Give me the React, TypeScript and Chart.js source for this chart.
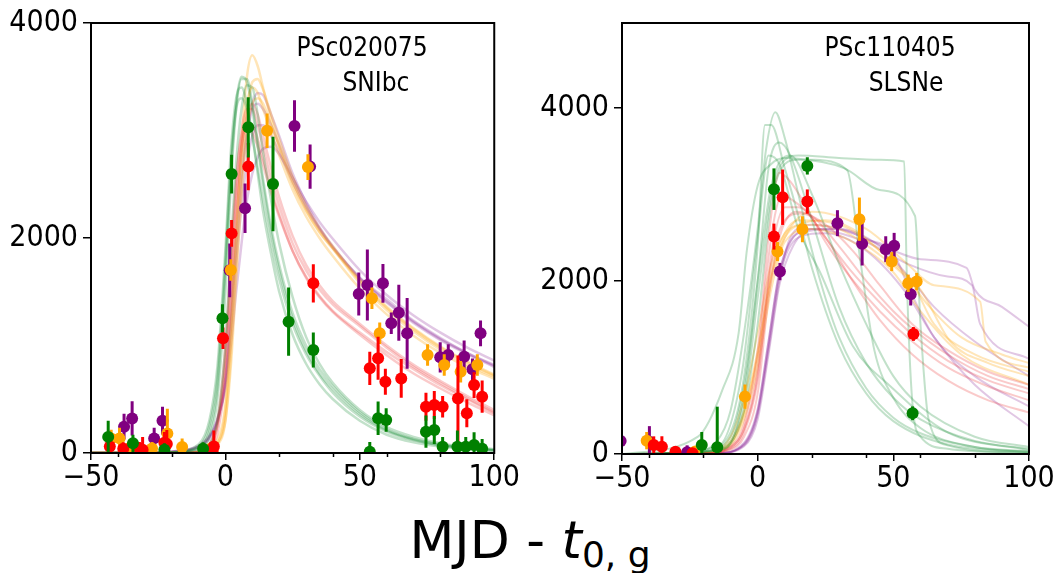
import React, { useEffect, useRef } from 'react';
import { Chart, registerables } from 'chart.js';

Chart.register(...registerables);

// ---------- Left panel (PSc020075, SNIbc) ----------
const L_TITLE = ['PSc020075', 'SNIbc'];
const L_Y_MAX = 4000;
const X_TICKS = [-50, 0, 50, 100];
const X_MINOR_TICKS = [-40, -20, 20, 40, 60, 80];
const Y_TICKS = [0, 2000, 4000];

const L_G_X = [-43.6, -34.4, -22.7, -8.3, -1.1, 2.3, 8.5, 17.7, 23.5, 32.7, 53.7, 56.8, 59.8, 74.6, 77.7, 80.8, 86.3, 89.4, 92.5, 95.5];
const L_G_Y = [150, 90, 30, 40, 1253, 2595, 3030, 2502, 1222, 958, 12, 323, 307, 198, 214, 59, 59, 59, 74, 40];
const L_G_E = [150, 80, 60, 60, 130, 180, 280, 440, 318, 163, 90, 155, 110, 150, 130, 90, 150, 90, 120, 90];

const L_R_X = [-43, -38, -32, -30.8, -22.7, -21.8, -4.8, -4.3, -0.9, 2.3, 8.5, 32.7, 53.7, 56.8, 59.5, 65.4, 74.6, 77.7, 80.8, 86.5, 89.8, 92.5, 95.5];
const L_R_Y = [60, 40, 43, 30, 96, 84, 20, 60, 1067, 2043, 2664, 1578, 788, 881, 663, 694, 431, 446, 431, 508, 369, 632, 524];
const L_R_E = [80, 60, 60, 120, 100, 130, 60, 150, 100, 125, 220, 178, 155, 200, 120, 180, 130, 130, 100, 400, 130, 120, 150];

const L_O_X = [-42.5, -39.4, -36, -33, -27.3, -21.6, -16.1, -6.1, -4.8, 2.0, 15.5, 30.7, 54.5, 57.4, 75.2, 81.4, 87.5, 93.7];
const L_O_Y = [136, 136, 43, 43, 43, 182, 56, 31, 12, 1702, 2998, 2660, 1439, 1113, 912, 819, 756, 819];
const L_O_E = [80, 100, 60, 60, 60, 230, 80, 60, 60, 100, 160, 120, 100, 100, 100, 100, 100, 100];

const L_P_X = [-37.7, -34.7, -26.5, -23.4, 1.6, 7.3, 25.7, 31.5, 49.6, 52.8, 58.6, 61.7, 64.5, 67.6, 79.9, 82.9, 88.8, 91.9, 94.9];
const L_P_Y = [245, 322, 136, 301, 1699, 2276, 3042, 2664, 1479, 1563, 1578, 1206, 1305, 1113, 890, 912, 896, 778, 1113];
const L_P_E = [120, 160, 100, 130, 250, 230, 240, 205, 200, 330, 180, 100, 260, 330, 140, 100, 150, 100, 120];

// model curves (left) sampled on a common grid
const L_GRID = [-50, -30, -20, -10, -6, -3, 0, 2, 4, 6, 8, 10, 12, 14, 17, 20, 25, 30, 35, 40, 50, 60, 70, 80, 90, 100];
const L_G_CURVES = [
  [0, 0, 5, 40, 150, 500, 1500, 2500, 3200, 3480, 3480, 3250, 2900, 2550, 2100, 1750, 1300, 1000, 780, 620, 380, 220, 130, 80, 50, 30],
  [0, 0, 5, 60, 250, 700, 1800, 2700, 3200, 3300, 3200, 2950, 2650, 2350, 1950, 1620, 1200, 920, 720, 560, 340, 200, 120, 70, 45, 25],
  [0, 0, 3, 20, 80, 300, 1000, 1900, 2700, 3200, 3420, 3400, 3150, 2800, 2350, 1950, 1450, 1080, 830, 650, 400, 240, 150, 90, 55, 35],
  [0, 0, 8, 80, 300, 800, 1900, 2800, 3300, 3400, 3250, 2950, 2600, 2250, 1850, 1500, 1100, 830, 640, 500, 300, 170, 100, 60, 35, 20],
  [0, 0, 4, 50, 200, 600, 1700, 2600, 3250, 3500, 3450, 3200, 2850, 2500, 2050, 1700, 1250, 950, 740, 590, 360, 210, 125, 75, 45, 25],
];
const L_R_CURVES = [
  [0, 0, 2, 10, 60, 250, 900, 1700, 2500, 3000, 3200, 3200, 3050, 2850, 2550, 2300, 1950, 1700, 1520, 1380, 1180, 980, 800, 650, 510, 380],
  [0, 0, 2, 15, 80, 300, 1000, 1800, 2550, 2950, 3050, 2980, 2850, 2680, 2420, 2200, 1880, 1640, 1460, 1320, 1120, 940, 780, 630, 500, 370],
  [0, 0, 1, 8, 40, 180, 700, 1400, 2200, 2800, 3150, 3250, 3150, 2950, 2650, 2380, 2020, 1750, 1560, 1410, 1200, 1000, 820, 670, 530, 400],
  [0, 0, 2, 12, 70, 260, 850, 1600, 2350, 2850, 3050, 3050, 2920, 2740, 2460, 2220, 1880, 1630, 1450, 1310, 1100, 910, 740, 600, 470, 350],
];
const L_O_CURVES = [
  [0, 0, 0, 5, 20, 80, 400, 1100, 2000, 2900, 3500, 3700, 3600, 3400, 3100, 2850, 2500, 2250, 2050, 1900, 1580, 1330, 1130, 960, 820, 710],
  [0, 0, 0, 5, 25, 90, 300, 800, 1600, 2400, 3000, 3250, 3300, 3250, 3050, 2850, 2520, 2260, 2060, 1900, 1600, 1350, 1150, 980, 840, 720],
  [0, 0, 0, 8, 30, 120, 450, 1200, 2100, 2800, 3250, 3400, 3350, 3200, 2980, 2770, 2450, 2200, 2000, 1830, 1530, 1290, 1090, 930, 800, 690],
  [0, 0, 0, 5, 20, 70, 300, 900, 1750, 2600, 3150, 3450, 3480, 3380, 3150, 2920, 2570, 2300, 2090, 1920, 1610, 1360, 1160, 990, 850, 730],
];
const L_P_CURVES = [
  [0, 0, 10, 60, 150, 300, 700, 1300, 2000, 2600, 3000, 3250, 3350, 3330, 3150, 2950, 2600, 2330, 2100, 1920, 1630, 1430, 1230, 1070, 930, 820],
  [0, 0, 15, 70, 160, 320, 600, 1000, 1500, 1950, 2350, 2600, 2750, 2830, 2850, 2780, 2560, 2340, 2150, 1990, 1700, 1470, 1280, 1120, 980, 860],
  [0, 0, 10, 50, 130, 280, 650, 1200, 1900, 2500, 2950, 3200, 3250, 3200, 3050, 2870, 2560, 2300, 2090, 1910, 1620, 1400, 1210, 1050, 920, 800],
  [0, 0, 12, 60, 140, 300, 650, 1150, 1750, 2300, 2700, 2950, 3050, 3050, 2950, 2800, 2520, 2280, 2080, 1910, 1630, 1410, 1220, 1060, 930, 810],
];

// ---------- Right panel (PSc110405, SLSNe) ----------
const R_TITLE = ['PSc110405', 'SLSNe'];
const R_Y_MAX = 4980;

const R_G_X = [-20.6, -14.9, 6.0, 18.3, 57.1];
const R_G_Y = [104, 77, 3060, 3329, 470];
const R_G_E = [150, 470, 240, 100, 80];

const R_R_X = [-38.3, -35.3, -30.3, -24, 6.0, 9.2, 18.3, 57.4];
const R_R_Y = [104, 85, 27, 10, 2512, 2967, 2917, 1387];
const R_R_E = [100, 120, 60, 60, 150, 320, 140, 80];

const R_O_X = [-40.9, -23, -4.7, 7.3, 16.5, 37.5, 49.4, 55.5, 58.6];
const R_O_Y = [154, 30, 663, 2339, 2597, 2713, 2223, 1973, 1992];
const R_O_E = [100, 60, 140, 110, 150, 250, 110, 100, 100];

const R_P_X = [-50.5, -39.9, -26, 8.2, 29.4, 38.5, 47.2, 50.3, 56.4];
const R_P_Y = [150, 142, 20, 2108, 2667, 2428, 2366, 2405, 1846];
const R_P_E = [60, 180, 80, 100, 150, 250, 150, 150, 130];

// model curves (right) as [x, y] pairs
const R_G_CURVES = [
  [[-50, 0], [-25, 20], [-15, 150], [-10, 500], [-5, 1400], [0, 2600], [3, 3500], [6.5, 3950], [10, 3650], [15, 3000], [20, 2350], [25, 1800], [30, 1350], [40, 760], [50, 420], [60, 240], [80, 80], [100, 30]],
  [[-50, 0], [-20, 30], [-10, 250], [-5, 900], [0, 2400], [2.7, 3800], [5, 3800], [10, 3300], [15, 2750], [20, 2150], [30, 1250], [40, 700], [50, 380], [70, 110], [100, 25]],
  [[-50, 0], [-20, 20], [-10, 200], [-5, 800], [0, 2000], [4, 3300], [8, 3600], [12, 3450], [20, 2700], [30, 1700], [40, 1050], [50, 650], [60, 400], [80, 150], [100, 60]],
  [[-50, 0], [-15, 50], [-5, 600], [0, 1800], [5, 3000], [10, 3400], [15, 3450], [30, 3420], [45, 3400], [54, 3380], [55, 2000], [57, 600], [60, 200], [70, 60], [100, 10]],
  [[-50, 0], [-15, 40], [-5, 500], [0, 1500], [5, 2900], [10, 3350], [15, 3400], [32, 3300], [45, 3050], [58, 2750], [60, 1500], [63, 400], [70, 100], [100, 10]],
  [[-50, 0], [-22, 200], [-13, 740], [-7, 1400], [-4, 2350], [0, 3100], [5, 3350], [10, 3420], [20, 3400], [33, 3280], [38, 2200], [43, 1200], [50, 650], [60, 300], [80, 80], [100, 20]],
  [[-50, 0], [-12, 60], [-5, 700], [0, 2000], [5, 3100], [12, 3450], [20, 3000], [30, 2200], [40, 1500], [50, 900], [60, 550], [80, 200], [100, 80]],
  [[-50, 0], [-15, 80], [-6, 900], [0, 2500], [4, 3450], [8, 3350], [15, 2600], [23, 2100], [35, 1250], [49, 780], [70, 250], [100, 45]],
];
const R_R_CURVES = [
  [[-50, 0], [-20, 10], [-10, 80], [-5, 300], [0, 1000], [3, 2000], [6, 2700], [9, 3000], [12, 2950], [18, 2800], [25, 2500], [34, 2130], [45, 1750], [57, 1380], [70, 1080], [85, 850], [100, 700]],
  [[-50, 0], [-20, 10], [-10, 90], [-5, 350], [0, 1200], [4, 2500], [8, 3250], [12, 3150], [18, 2850], [25, 2450], [34, 2050], [45, 1650], [57, 1300], [70, 1000], [85, 780], [100, 620]],
  [[-50, 0], [-20, 5], [-10, 50], [-5, 200], [0, 700], [4, 1800], [8, 2500], [14, 2800], [20, 2750], [30, 2400], [40, 2000], [50, 1650], [57, 1450], [70, 1150], [85, 900], [100, 750]],
  [[-50, 0], [-20, 8], [-10, 70], [-5, 280], [0, 900], [5, 2300], [10, 2850], [15, 2850], [25, 2500], [35, 2000], [45, 1550], [57, 1150], [70, 850], [85, 620], [100, 480]],
  [[-50, 0], [-20, 8], [-10, 60], [-5, 250], [0, 850], [5, 2200], [10, 2700], [16, 2780], [25, 2650], [35, 2350], [45, 1950], [57, 1500], [70, 1200], [85, 950], [100, 800]],
];
const R_O_CURVES = [
  [[-50, 0], [-20, 20], [-10, 200], [-5, 650], [0, 1400], [5, 2200], [10, 2550], [15, 2650], [25, 2700], [35, 2600], [45, 2350], [55, 2050], [60, 1900], [71, 1300], [85, 1050], [100, 900]],
  [[-50, 0], [-20, 15], [-10, 150], [-5, 500], [0, 1200], [5, 2100], [10, 2550], [15, 2700], [30, 2650], [45, 2350], [57, 1980], [65, 1500], [80, 1150], [100, 950]],
  [[-50, 0], [-20, 10], [-10, 120], [-5, 450], [0, 1100], [5, 2000], [10, 2500], [20, 2800], [40, 2600], [55, 2200], [65, 1950], [82, 1760], [84, 1300], [100, 1000]],
  [[-50, 0], [-20, 10], [-10, 100], [-5, 400], [0, 1000], [5, 1900], [10, 2450], [20, 2600], [35, 2450], [50, 2100], [60, 1650], [75, 1150], [100, 800]],
  [[-50, 0], [-20, 12], [-10, 130], [-5, 480], [0, 1150], [5, 2050], [10, 2500], [18, 2650], [30, 2600], [45, 2300], [56, 2000], [62, 1750], [75, 1350], [90, 1150], [100, 1050]],
];
const R_P_CURVES = [
  [[-50, 0], [-15, 10], [-5, 120], [0, 500], [4, 1300], [8, 2100], [12, 2450], [18, 2600], [30, 2600], [40, 2480], [50, 2320], [56, 1900], [65, 1350], [80, 900], [100, 550]],
  [[-50, 0], [-15, 10], [-5, 100], [0, 450], [4, 1200], [8, 2000], [12, 2500], [20, 2650], [35, 2550], [50, 2350], [60, 2250], [77, 2150], [80, 1900], [90, 1700], [100, 1470]],
  [[-50, 0], [-15, 8], [-5, 90], [0, 400], [4, 1150], [8, 1950], [13, 2400], [20, 2600], [40, 2450], [55, 2200], [70, 2050], [79, 1950], [82, 1500], [100, 1100]],
  [[-50, 0], [-15, 10], [-5, 110], [0, 480], [4, 1250], [8, 2050], [15, 2500], [25, 2550], [40, 2350], [55, 1850], [65, 1350], [80, 800], [100, 320]],
  [[-50, 0], [-15, 12], [-5, 130], [0, 520], [4, 1300], [8, 2100], [15, 2550], [30, 2600], [45, 2400], [57, 2000], [65, 1700], [80, 1300], [100, 900]],
];

// ---------- styles ----------
const PT_COLORS = { g: '#008000', r: '#ff0000', o: '#ffa500', p: '#800080' };
const LINE_COLORS = {
  g: 'rgba(20,140,50,0.26)',
  r: 'rgba(235,50,50,0.26)',
  o: 'rgba(255,170,20,0.3)',
  p: 'rgba(140,40,150,0.26)',
};
const FONT = "'DejaVu Sans Condensed', 'DejaVu Sans', sans-serif";
const FONT_REG = "'DejaVu Sans', sans-serif";

const fmt = (v: number) => (v < 0 ? '\u2212' + Math.abs(v) : String(v));

const errorBars = {
  id: 'errorBars',
  beforeDatasetDraw(chart: any, args: any) {
    const ds = chart.data.datasets[args.index];
    if (!ds.yerr) return;
    const { ctx, chartArea, scales } = chart;
    ctx.save();
    ctx.beginPath();
    ctx.rect(chartArea.left, chartArea.top, chartArea.right - chartArea.left, chartArea.bottom - chartArea.top);
    ctx.clip();
    ctx.strokeStyle = ds.backgroundColor;
    ctx.lineWidth = 3;
    ds.data.forEach((p: any, i: number) => {
      const px = scales.x.getPixelForValue(p.x);
      ctx.beginPath();
      ctx.moveTo(px, scales.y.getPixelForValue(p.y - ds.yerr[i]));
      ctx.lineTo(px, scales.y.getPixelForValue(p.y + ds.yerr[i]));
      ctx.stroke();
    });
    ctx.restore();
  },
};

const frame = {
  id: 'frame',
  afterDraw(chart: any) {
    const { ctx, chartArea, scales } = chart;
    ctx.save();
    ctx.strokeStyle = '#000';
    ctx.lineWidth = 2;
    ctx.strokeRect(chartArea.left, chartArea.top, chartArea.right - chartArea.left, chartArea.bottom - chartArea.top);
    ctx.lineWidth = 1.5;
    X_MINOR_TICKS.forEach((v) => {
      const px = Math.round(scales.x.getPixelForValue(v)) + 0.5;
      ctx.beginPath();
      ctx.moveTo(px, chartArea.bottom);
      ctx.lineTo(px, chartArea.bottom + 4);
      ctx.stroke();
    });
    ctx.restore();
  },
};

function pointSet(xs: number[], ys: number[], es: number[], color: string) {
  return {
    type: 'scatter',
    data: xs.map((x, i) => ({ x, y: ys[i] })),
    yerr: es,
    backgroundColor: color,
    borderColor: color,
    pointRadius: 6,
    pointBorderWidth: 0,
    showLine: false,
    order: 0,
    clip: 0,
  };
}

function curveSet(points: { x: number; y: number }[], color: string, width: number) {
  return {
    type: 'scatter',
    data: points,
    showLine: true,
    borderColor: color,
    backgroundColor: color,
    borderWidth: width,
    pointRadius: 0,
    cubicInterpolationMode: 'monotone',
    order: 5,
    clip: 0,
  };
}

function gridCurves(grid: number[], curves: number[][], color: string) {
  return curves.map((ys) => curveSet(grid.map((x, i) => ({ x, y: ys[i] })), color, 2.5));
}
function pairCurves(curves: number[][][], color: string) {
  return curves.map((c) => curveSet(c.map(([x, y]) => ({ x, y })), color, 2));
}

function makeOptions(yMax: number, yAxisWidth: number, xAxisHeight: number, padRight: number) {
  const tickFont = { family: FONT, size: 30 };
  return {
    responsive: false,
    maintainAspectRatio: false,
    animation: false,
    layout: { padding: { left: 0, top: 23, right: padRight, bottom: 0 } },
    plugins: { legend: { display: false }, tooltip: { enabled: false } },
    scales: {
      x: {
        type: 'linear',
        min: -50,
        max: 100,
        afterBuildTicks: (s: any) => {
          s.ticks = X_TICKS.map((v) => ({ value: v }));
        },
        ticks: { callback: (v: any) => fmt(Number(v)), font: tickFont, color: '#000', padding: 0, maxRotation: 0, autoSkip: false },
        grid: { display: true, drawOnChartArea: false, drawTicks: true, tickLength: 7, color: '#000', lineWidth: 1.5 },
        border: { display: false },
        afterFit: (s: any) => {
          s.height = xAxisHeight;
        },
      },
      y: {
        type: 'linear',
        min: 0,
        max: yMax,
        afterBuildTicks: (s: any) => {
          s.ticks = Y_TICKS.map((v) => ({ value: v }));
        },
        ticks: { callback: (v: any) => fmt(Number(v)), font: tickFont, color: '#000', padding: 5, autoSkip: false },
        grid: { display: true, drawOnChartArea: false, drawTicks: true, tickLength: 8, color: '#000', lineWidth: 1.5 },
        border: { display: false },
        afterFit: (s: any) => {
          s.width = yAxisWidth;
        },
      },
    },
  };
}

function Panel(props: { datasets: any[]; yMax: number; yAxisWidth: number; xAxisHeight: number; padRight: number; left: number; width: number; height: number }) {
  const ref = useRef<HTMLCanvasElement>(null);
  useEffect(() => {
    const chart = new Chart(ref.current as HTMLCanvasElement, {
      type: 'scatter',
      data: { datasets: props.datasets },
      options: makeOptions(props.yMax, props.yAxisWidth, props.xAxisHeight, props.padRight) as any,
      plugins: [errorBars, frame],
    } as any);
    return () => chart.destroy();
  }, []);
  return (
    <canvas
      ref={ref}
      width={props.width}
      height={props.height}
      style={{ position: 'absolute', left: props.left, top: 0, width: props.width, height: props.height }}
    />
  );
}

const leftDatasets = [
  ...gridCurves(L_GRID, L_G_CURVES, LINE_COLORS.g),
  ...gridCurves(L_GRID, L_R_CURVES, LINE_COLORS.r),
  ...gridCurves(L_GRID, L_O_CURVES, LINE_COLORS.o),
  ...gridCurves(L_GRID, L_P_CURVES, LINE_COLORS.p),
  pointSet(L_G_X, L_G_Y, L_G_E, PT_COLORS.g),
  pointSet(L_R_X, L_R_Y, L_R_E, PT_COLORS.r),
  pointSet(L_O_X, L_O_Y, L_O_E, PT_COLORS.o),
  pointSet(L_P_X, L_P_Y, L_P_E, PT_COLORS.p),
];

const rightDatasets = [
  ...pairCurves(R_G_CURVES, LINE_COLORS.g),
  ...pairCurves(R_R_CURVES, LINE_COLORS.r),
  ...pairCurves(R_O_CURVES, LINE_COLORS.o),
  ...pairCurves(R_P_CURVES, LINE_COLORS.p),
  pointSet(R_G_X, R_G_Y, R_G_E, PT_COLORS.g),
  pointSet(R_R_X, R_R_Y, R_R_E, PT_COLORS.r),
  pointSet(R_O_X, R_O_Y, R_O_E, PT_COLORS.o),
  pointSet(R_P_X, R_P_Y, R_P_E, PT_COLORS.p),
];

const titleStyle = (cx: number, top: number): React.CSSProperties => ({
  position: 'absolute',
  left: cx - 150,
  width: 300,
  top,
  textAlign: 'center',
  fontFamily: FONT,
  fontSize: 26,
  lineHeight: '30px',
  color: '#000',
  whiteSpace: 'nowrap',
});

export default function App() {
  return (
    <div style={{ position: 'absolute', left: 0, top: 0, width: 1060, height: 573, background: '#fff', overflow: 'hidden' }}>
      <Panel datasets={leftDatasets} yMax={L_Y_MAX} yAxisWidth={91} xAxisHeight={47} padRight={23} left={0} width={520} height={500} />
      <Panel datasets={rightDatasets} yMax={R_Y_MAX} yAxisWidth={92} xAxisHeight={46} padRight={31} left={530} width={530} height={500} />
      <div style={titleStyle(362, 32)}>{L_TITLE[0]}</div>
      <div style={titleStyle(376, 67)}>{L_TITLE[1]}</div>
      <div style={titleStyle(890, 32)}>{R_TITLE[0]}</div>
      <div style={titleStyle(906, 67)}>{R_TITLE[1]}</div>
      <div
        style={{
          position: 'absolute',
          left: 0,
          width: 1060,
          top: 510,
          textAlign: 'center',
          fontFamily: FONT_REG,
          fontSize: 52,
          lineHeight: '60px',
          color: '#000',
          whiteSpace: 'nowrap',
        }}
      >
        MJD - <span style={{ fontStyle: 'italic' }}>t</span>
        <span style={{ fontSize: 36, position: 'relative', top: 9 }}>0, g</span>
      </div>
    </div>
  );
}
